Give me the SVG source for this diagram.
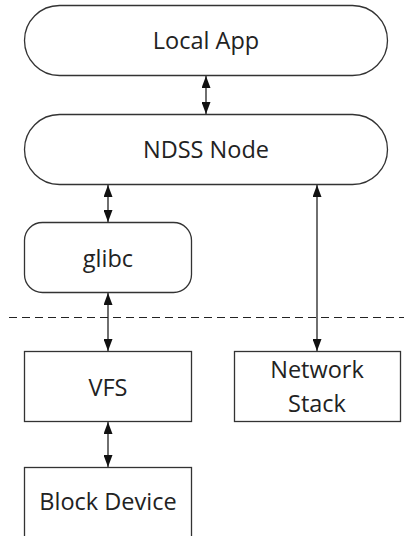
<svg xmlns="http://www.w3.org/2000/svg" width="404" height="536" viewBox="0 0 404 536">
<style>
.n{fill:#fff;stroke:#333;stroke-width:1.3}
.t{font-family:"Open Sans","Liberation Sans",sans-serif;font-size:23.5px;fill:#222;text-anchor:middle}
.c{stroke:#222;stroke-width:1.3;fill:none;marker-start:url(#a);marker-end:url(#a)}
</style>
<defs>
<marker id="a" viewBox="0 0 12 9" refX="12" refY="4.5" markerWidth="12" markerHeight="9" markerUnits="userSpaceOnUse" orient="auto-start-reverse">
<path d="M0,0L12,4.5L0,9z" fill="#111"/>
</marker>
</defs>
<rect width="404" height="536" fill="#fff"/>
<g id="local-app"><rect class="n" x="24.5" y="5.5" width="363" height="70" rx="35"/><text class="t" x="206" y="49">Local App</text></g>
<g id="ndss-node"><rect class="n" x="24.5" y="114.5" width="363" height="70" rx="35"/><text class="t" x="206" y="158">NDSS Node</text></g>
<g id="glibc"><rect class="n" x="24.5" y="222.5" width="167" height="70" rx="18"/><text class="t" x="108" y="267">glibc</text></g>
<g id="vfs"><rect class="n" x="24.5" y="351.5" width="167" height="70"/><text class="t" x="108" y="396">VFS</text></g>
<g id="network-stack"><rect class="n" x="234.5" y="351.5" width="166" height="70"/><text class="t" x="317" y="378">Network</text><text class="t" x="317" y="412">Stack</text></g>
<g id="block-device"><rect class="n" x="24.5" y="467.5" width="167" height="75"/><text class="t" x="108" y="510">Block Device</text></g>
<line x1="9" y1="317.5" x2="404" y2="317.5" stroke="#222" stroke-width="1" stroke-dasharray="8,5"/>
<g id="connectors">
<line class="c" x1="206" y1="76" x2="206" y2="114"/>
<line class="c" x1="108" y1="185" x2="108" y2="222"/>
<line class="c" x1="108" y1="293" x2="108" y2="351"/>
<line class="c" x1="317" y1="185" x2="317" y2="351"/>
<line class="c" x1="108" y1="422" x2="108" y2="467"/>
</g>
</svg>
